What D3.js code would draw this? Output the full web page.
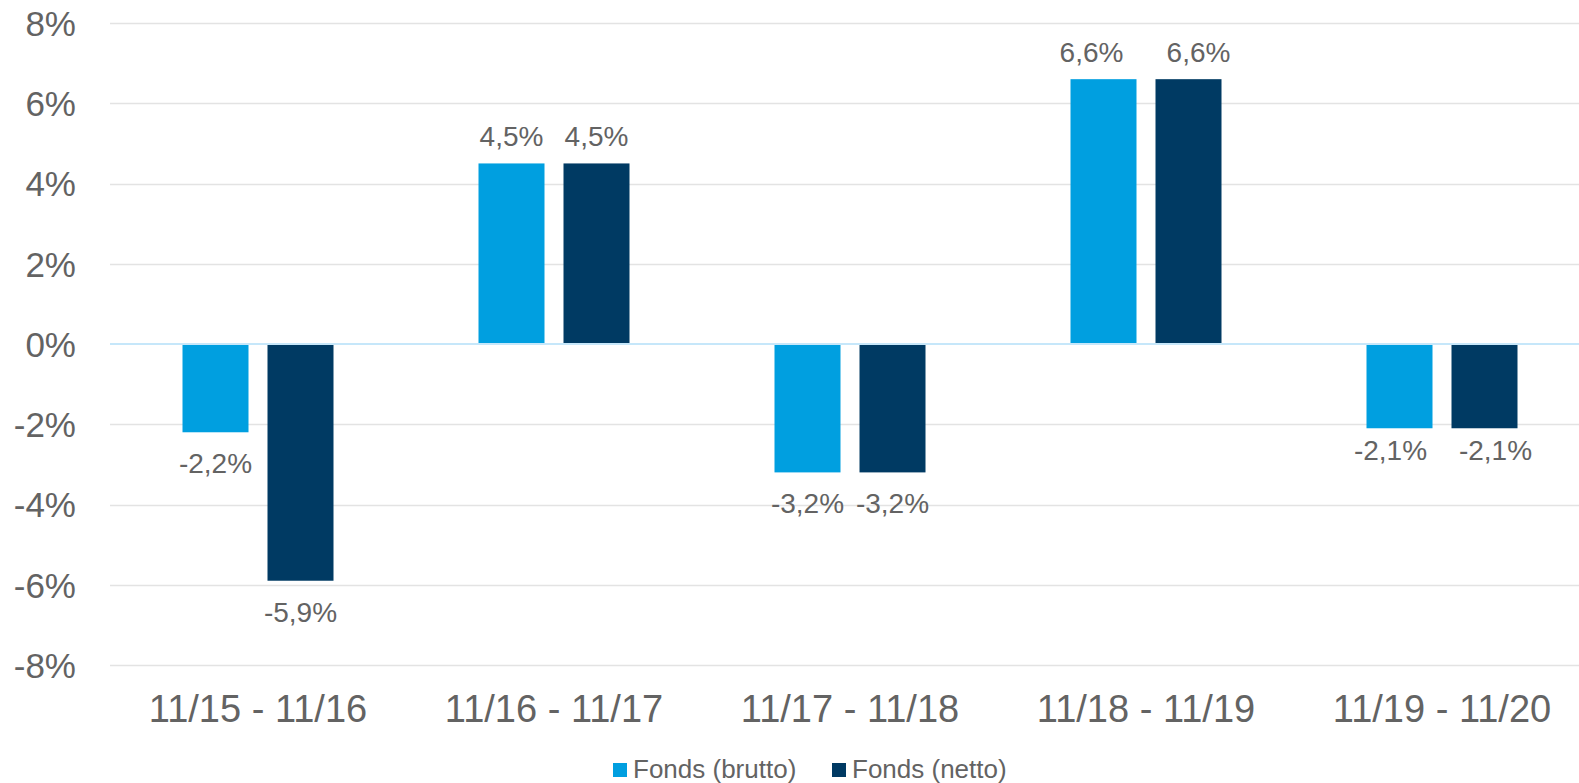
<!DOCTYPE html>
<html>
<head>
<meta charset="utf-8">
<script src="https://cdn.jsdelivr.net/npm/d3@7"></script>
<style>
  html, body { margin: 0; padding: 0; background: #fff; }
  svg { display: block; font-family: "Liberation Sans", Arial, sans-serif; }
</style>
</head>
<body>
<svg id="chart" width="1579" height="783"></svg>
<script>
const categories = ["11/15 - 11/16", "11/16 - 11/17", "11/17 - 11/18", "11/18 - 11/19", "11/19 - 11/20"];
const seriesNames = ["Fonds (brutto)", "Fonds (netto)"];
const brutto = [-2.2, 4.5, -3.2, 6.6, -2.1];
const netto = [-5.9, 4.5, -3.2, 6.6, -2.1];
const yTicks = [-8, -6, -4, -2, 0, 2, 4, 6, 8];
const colors = ["#009FE0", "#003A63"];

// label placement nudges (style only, px) per category / series
const labelNudgeX = [[0, 0], [0, 0], [0, 0], [-12, 10], [-9, 11]];
const labelNudgeY = [[0, 0], [0, 0], [0, 0], [0, 0], [-9, -9]];

const svg = d3.select("#chart");
const W = 1579, H = 783;
const textColor = "#636363";

const x = d3.scaleBand().domain(categories).range([110, 1590]).paddingInner(0).paddingOuter(0);
const x1 = d3.scaleBand().domain(seriesNames).range([0, x.bandwidth()]).paddingInner(0.2235).paddingOuter(0.853);
const y = d3.scaleLinear().domain([-8, 8]).range([665, 23]);

// gridlines
svg.append("g").selectAll("line").data(yTicks.filter(d => d !== 0)).join("line")
  .attr("x1", 110).attr("x2", W)
  .attr("y1", d => Math.round(y(d)) + 0.5).attr("y2", d => Math.round(y(d)) + 0.5)
  .attr("stroke", "#E3E3E3").attr("stroke-width", 1.5);

// y axis labels
const yAxis = d3.axisLeft(y).tickValues(yTicks).tickFormat(d => d + "%").tickSize(0).tickPadding(0);
const ya = svg.append("g").attr("transform", "translate(76,0)").call(yAxis);
ya.select(".domain").remove();
ya.selectAll("text").attr("font-size", 35).attr("fill", textColor)
  .attr("font-family", "'Liberation Sans', Arial, sans-serif").attr("dy", "0.35em");

// bars
const data = categories.map((c, i) => ({ c, i, vals: [brutto[i], netto[i]] }));
const groups = svg.append("g").selectAll("g").data(data).join("g")
  .attr("transform", d => `translate(${x(d.c)},0)`);
groups.selectAll("rect").data(d => d.vals.map((v, j) => ({ v, s: seriesNames[j], j, i: d.i }))).join("rect")
  .attr("x", d => x1(d.s))
  .attr("width", x1.bandwidth())
  .attr("y", d => Math.min(y(0), y(d.v)))
  .attr("height", d => Math.abs(y(d.v) - y(0)))
  .attr("fill", d => colors[d.j]);

// zero line
svg.append("line").attr("x1", 110).attr("x2", W)
  .attr("y1", y(0)).attr("y2", y(0))
  .attr("stroke", "#C6E7FA").attr("stroke-width", 2);

// data labels
const fmt = v => d3.format(".1f")(v).replace("\u2212", "-").replace(".", ",") + "%";
groups.selectAll("text.lbl").data(d => d.vals.map((v, j) => ({ v, s: seriesNames[j], j, i: d.i }))).join("text")
  .attr("class", "lbl")
  .attr("x", d => x1(d.s) + x1.bandwidth() / 2 + labelNudgeX[d.i][d.j])
  .attr("y", d => (d.v >= 0 ? y(d.v) - 17 : y(d.v) + 41) + labelNudgeY[d.i][d.j])
  .attr("text-anchor", "middle")
  .attr("font-size", 28).attr("fill", textColor)
  .text(d => fmt(d.v));

// category labels
const xAxis = d3.axisBottom(x).tickSize(0).tickPadding(0);
const xa = svg.append("g").attr("transform", "translate(0,722)").call(xAxis);
xa.select(".domain").remove();
xa.selectAll("text").attr("font-size", 38).attr("fill", textColor)
  .attr("font-family", "'Liberation Sans', Arial, sans-serif").attr("dy", 0);

// legend
const legendX = [613, 832];
const lg = svg.append("g").selectAll("g").data(seriesNames).join("g")
  .attr("transform", (d, i) => `translate(${legendX[i]},763)`);
lg.append("rect").attr("width", 14).attr("height", 14).attr("fill", (d, i) => colors[i]);
lg.append("text").attr("x", 20).attr("y", 15).attr("font-size", 26).attr("fill", textColor).text(d => d);
</script>
</body>
</html>
